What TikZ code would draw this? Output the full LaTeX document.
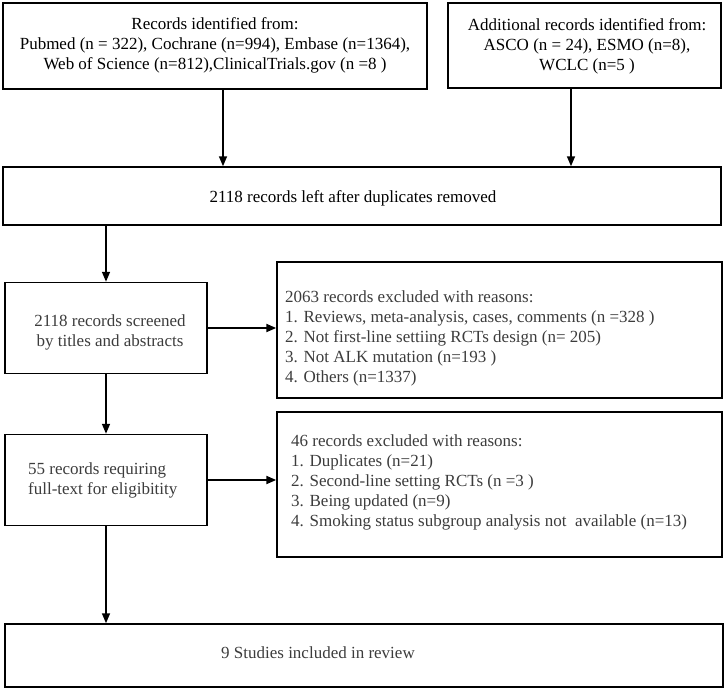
\documentclass[tikz,border=0pt]{standalone}
\usepackage{fontspec}
\setmainfont{Liberation Serif}
\usetikzlibrary{arrows.meta}
\definecolor{txtgrey}{HTML}{3C3C3C}
\begin{document}
\begin{tikzpicture}[x=1pt,y=-1pt,
  box/.style={draw=black, line width=1.5pt, inner sep=0pt, rectangle},
  txt/.style={inner sep=0pt, font=\fontsize{17}{20}\selectfont},
  gtxt/.style={txt, text=txtgrey},
  arr/.style={line width=1.6pt, -{Triangle[length=10pt,width=8pt]}},
  harr/.style={line width=2pt, -{Triangle[length=10pt,width=8pt]}}]
\useasboundingbox (0,0) rectangle (726,689);
% boxes
\node[box, minimum width=424pt, minimum height=86pt] (b1) at (215,46) {};
\node[box, minimum width=273pt, minimum height=85pt] (b2) at (584.5,45.5) {};
\node[box, minimum width=718pt, minimum height=58pt] (b3) at (362,196) {};
\node[box, minimum width=202pt, minimum height=91pt] (b4) at (106,328) {};
\node[box, minimum width=445pt, minimum height=136pt] (b5) at (499.5,330) {};
\node[box, minimum width=202pt, minimum height=91pt] (b6) at (106,480) {};
\node[box, minimum width=445pt, minimum height=145pt] (b7) at (499.5,484.5) {};
\node[box, minimum width=718pt, minimum height=63pt] (b8) at (364,655.5) {};
% texts
\node[txt, align=center] (t1) at (215,45) {Records identified from:\\Pubmed (n = 322), Cochrane (n=994), Embase (n=1364),\\Web of Science (n=812),ClinicalTrials.gov (n =8 )};
\node[txt, align=center] (t2) at (587,46) {Additional records identified from:\\ASCO (n = 24), ESMO (n=8),\\WCLC (n=5 )};
\node[txt] (t3) at (353,198) {2118 records left after duplicates removed};
\node[gtxt, align=center] (t4) at (110,332) {2118 records screened\\by titles and abstracts};
\node[gtxt, align=left, anchor=west] (t5) at (285,338) {2063 records excluded with reasons:\\1. Reviews, meta-analysis, cases, comments (n =328 )\\2. Not first-line settiing RCTs design (n= 205)\\3. Not ALK mutation (n=193 )\\4. Others (n=1337)};
\node[gtxt, align=left, anchor=west] (t6) at (28,480) {55 records requiring\\full-text for eligibitity};
\node[gtxt, align=left, anchor=west] (t7) at (291,482) {46 records excluded with reasons:\\1. Duplicates (n=21)\\2. Second-line setting RCTs (n =3 )\\3. Being updated (n=9)\\4. Smoking status subgroup analysis not\ \ available (n=13)};
\node[gtxt, anchor=west] (t8) at (221,653) {9 Studies included in review};
% arrows
\draw[arr] ([xshift=8pt]b1.south) -- ([xshift=8pt]b1.south |- b3.north);
\draw[arr] ([xshift=-13.5pt]b2.south) -- ([xshift=-13.5pt]b2.south |- b3.north);
\draw[arr] (b4.north |- b3.south) -- (b4.north);
\draw[harr] (b4.east) -- (b4.east -| b5.west);
\draw[arr] (b4.south) -- (b6.north);
\draw[harr] (b6.east) -- (b6.east -| b7.west);
\draw[arr] (b6.south) -- (b6.south |- b8.north);
\end{tikzpicture}
\end{document}
